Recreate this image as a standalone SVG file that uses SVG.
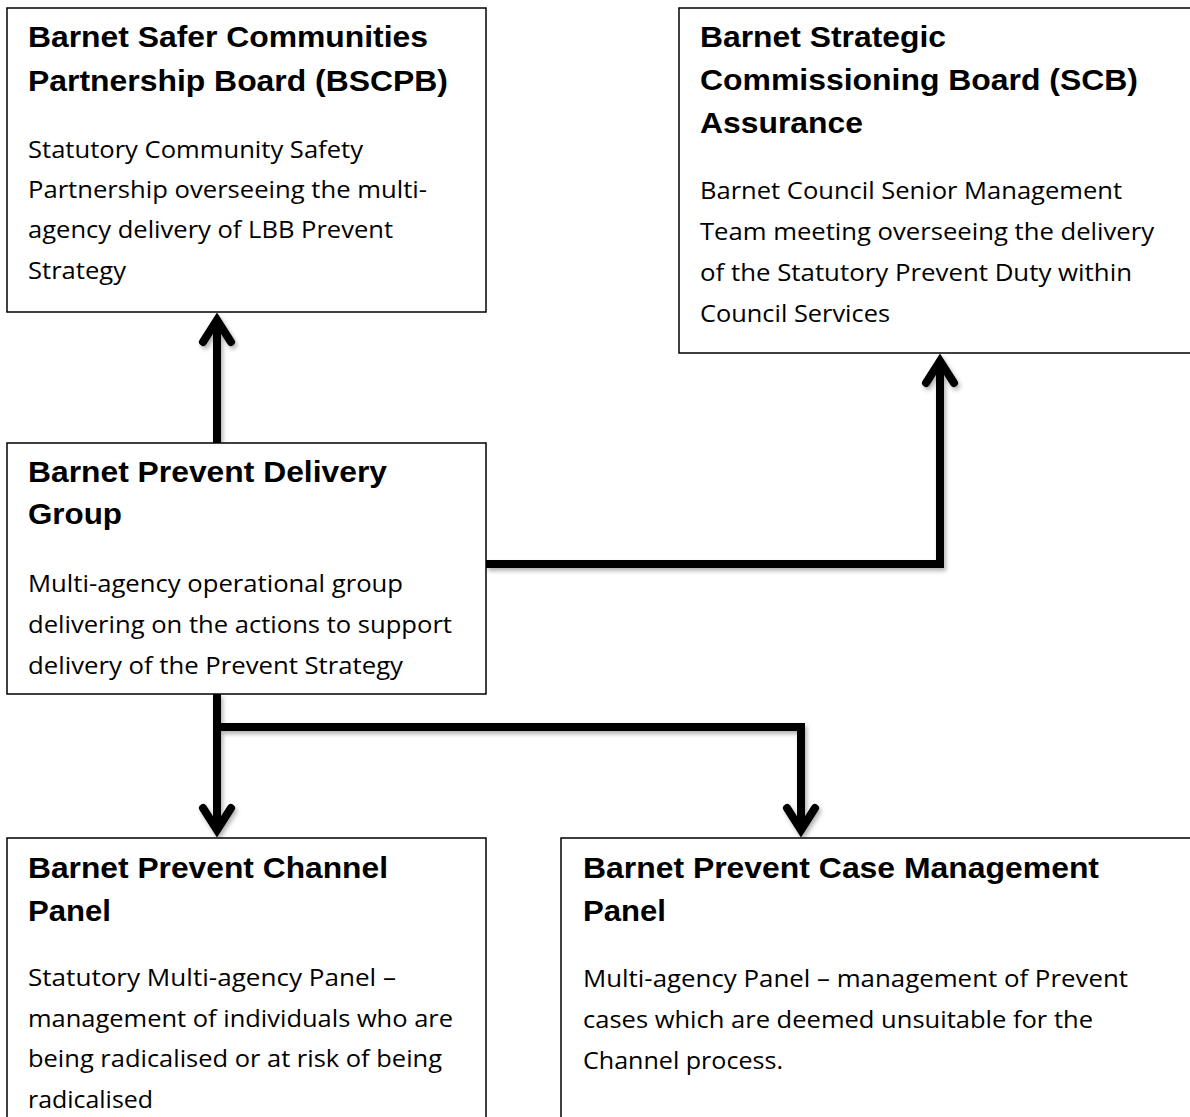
<svg xmlns="http://www.w3.org/2000/svg" width="1190" height="1117" viewBox="0 0 1190 1117">
<style>
.box{fill:#fff;stroke:#000;stroke-width:1.5}
.t{font-family:"Liberation Sans",Arial,sans-serif;font-weight:bold;font-size:29.5px;fill:#000}
.b{font-family:"Open Sans","Noto Sans",sans-serif;font-size:24.5px;fill:#000}
.c{fill:none;stroke:#000;stroke-width:8;stroke-linejoin:miter;stroke-linecap:butt}
</style>
<defs>
<filter id="sh" x="-20%" y="-20%" width="140%" height="140%">
<feDropShadow dx="2" dy="3" stdDeviation="2" flood-color="#000" flood-opacity="0.3"/>
</filter>
<marker id="ah" markerUnits="userSpaceOnUse" orient="auto" refX="0" refY="0" markerWidth="1" markerHeight="1" overflow="visible">
<path d="M -22 -14 L 0 0 L -22 14" fill="none" stroke="#000" stroke-width="8" stroke-linejoin="miter" stroke-linecap="round"/>
</marker>
</defs>
<rect width="1190" height="1117" fill="#fff"/>

<g id="connectors" filter="url(#sh)">
<path class="c" d="M 217 443 L 217 320" marker-end="url(#ah)"/>
<path class="c" d="M 486 564 L 940 564 L 940 361" marker-end="url(#ah)"/>
<path class="c" d="M 217 694 L 217 830" marker-end="url(#ah)"/>
<path class="c" d="M 217 727 L 801 727 L 801 830" marker-end="url(#ah)"/>
</g>

<g id="bscpb">
<rect class="box" x="7" y="8" width="479" height="304"/>
<text class="t" x="28" y="47" textLength="400" lengthAdjust="spacingAndGlyphs">Barnet Safer Communities</text>
<text class="t" x="28" y="91" textLength="420" lengthAdjust="spacingAndGlyphs">Partnership Board (BSCPB)</text>
<text class="b" x="28" y="158" textLength="335" lengthAdjust="spacingAndGlyphs">Statutory Community Safety</text>
<text class="b" x="28" y="198" textLength="399" lengthAdjust="spacingAndGlyphs">Partnership overseeing the multi-</text>
<text class="b" x="28" y="238" textLength="365" lengthAdjust="spacingAndGlyphs">agency delivery of LBB Prevent</text>
<text class="b" x="28" y="279" textLength="98" lengthAdjust="spacingAndGlyphs">Strategy</text>
</g>

<g id="scb">
<rect class="box" x="679" y="8" width="530" height="345"/>
<text class="t" x="700" y="47" textLength="246" lengthAdjust="spacingAndGlyphs">Barnet Strategic</text>
<text class="t" x="700" y="90" textLength="438" lengthAdjust="spacingAndGlyphs">Commissioning Board (SCB)</text>
<text class="t" x="700" y="133" textLength="163" lengthAdjust="spacingAndGlyphs">Assurance</text>
<text class="b" x="700" y="199" textLength="422" lengthAdjust="spacingAndGlyphs">Barnet Council Senior Management</text>
<text class="b" x="700" y="240" textLength="454" lengthAdjust="spacingAndGlyphs">Team meeting overseeing the delivery</text>
<text class="b" x="700" y="281" textLength="432" lengthAdjust="spacingAndGlyphs">of the Statutory Prevent Duty within</text>
<text class="b" x="700" y="322" textLength="190" lengthAdjust="spacingAndGlyphs">Council Services</text>
</g>

<g id="delivery">
<rect class="box" x="7" y="443" width="479" height="251"/>
<text class="t" x="28" y="482" textLength="359" lengthAdjust="spacingAndGlyphs">Barnet Prevent Delivery</text>
<text class="t" x="28" y="524" textLength="94" lengthAdjust="spacingAndGlyphs">Group</text>
<text class="b" x="28" y="592" textLength="375" lengthAdjust="spacingAndGlyphs">Multi-agency operational group</text>
<text class="b" x="28" y="633" textLength="424" lengthAdjust="spacingAndGlyphs">delivering on the actions to support</text>
<text class="b" x="28" y="674" textLength="375" lengthAdjust="spacingAndGlyphs">delivery of the Prevent Strategy</text>
</g>

<g id="channel">
<rect class="box" x="7" y="838" width="479" height="300"/>
<text class="t" x="28" y="878" textLength="360" lengthAdjust="spacingAndGlyphs">Barnet Prevent Channel</text>
<text class="t" x="28" y="921" textLength="83" lengthAdjust="spacingAndGlyphs">Panel</text>
<text class="b" x="28" y="986" textLength="368" lengthAdjust="spacingAndGlyphs">Statutory Multi-agency Panel –</text>
<text class="b" x="28" y="1027" textLength="425" lengthAdjust="spacingAndGlyphs">management of individuals who are</text>
<text class="b" x="28" y="1067" textLength="414" lengthAdjust="spacingAndGlyphs">being radicalised or at risk of being</text>
<text class="b" x="28" y="1108" textLength="125" lengthAdjust="spacingAndGlyphs">radicalised</text>
</g>

<g id="casemgmt">
<rect class="box" x="561" y="838" width="650" height="300"/>
<text class="t" x="583" y="878" textLength="516" lengthAdjust="spacingAndGlyphs">Barnet Prevent Case Management</text>
<text class="t" x="583" y="921" textLength="83" lengthAdjust="spacingAndGlyphs">Panel</text>
<text class="b" x="583" y="987" textLength="545" lengthAdjust="spacingAndGlyphs">Multi-agency Panel – management of Prevent</text>
<text class="b" x="583" y="1028" textLength="510" lengthAdjust="spacingAndGlyphs">cases which are deemed unsuitable for the</text>
<text class="b" x="583" y="1069" textLength="200" lengthAdjust="spacingAndGlyphs">Channel process.</text>
</g>
</svg>
